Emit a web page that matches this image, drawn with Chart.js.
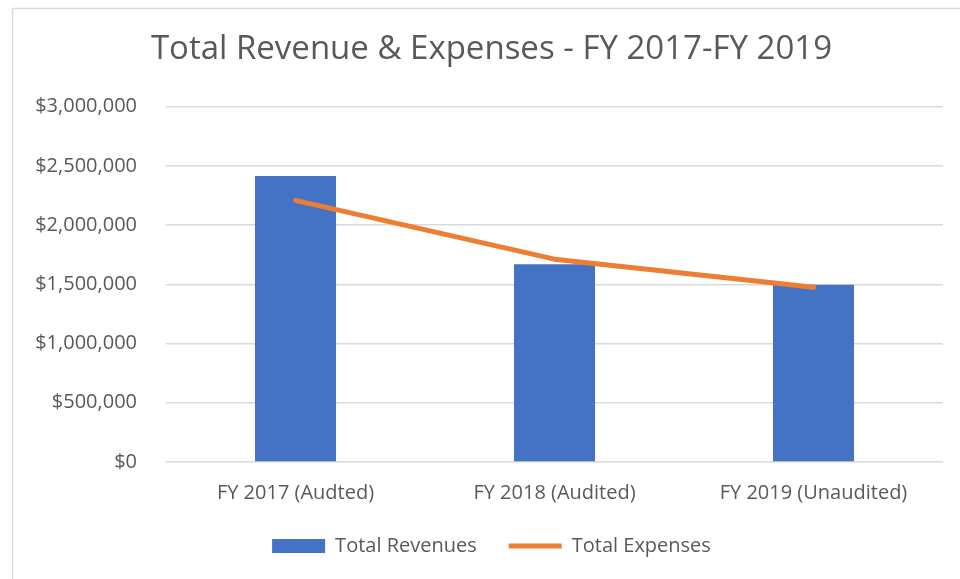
<!DOCTYPE html>
<html>
<head>
<meta charset="utf-8">
<script src="https://cdn.jsdelivr.net/npm/chart.js@4.4.1/dist/chart.umd.min.js"></script>
<style>
  html, body { margin: 0; padding: 0; background: #ffffff; }
  #wrap { width: 960px; height: 579px; position: relative; }
</style>
</head>
<body>
<div id="wrap"><canvas id="c" width="960" height="579"></canvas></div>
<script>
const categories = ['FY 2017 (Audted)', 'FY 2018 (Audited)', 'FY 2019 (Unaudited)'];
const revenues = [2415000, 1669000, 1497000];
const expenses = [2208000, 1712000, 1475000];
const yTickValues = [0, 500000, 1000000, 1500000, 2000000, 2500000, 3000000];
const seriesNames = ['Total Revenues', 'Total Expenses'];
const titleText = 'Total Revenue & Expenses - FY 2017-FY 2019';

const TEXT = '#595959';
const FONT = "'Open Sans', sans-serif";

const framePlugin = {
  id: 'frame',
  afterLayout(chart) {
    // centre title and legend on the outer frame (as in the reference)
    const shift = 20;
    if (chart.titleBlock) { chart.titleBlock.left += shift; chart.titleBlock.right += shift; }
    if (chart.legend) { chart.legend.left += shift; chart.legend.right += shift; }
  },
  beforeDraw(chart) {
    const ctx = chart.ctx;
    ctx.save();
    ctx.fillStyle = '#ffffff';
    ctx.fillRect(0, 0, chart.width, chart.height);
    ctx.strokeStyle = '#D9D9D9';
    ctx.lineWidth = 1.5;
    ctx.strokeRect(12.5, 8.5, chart.width + 10, chart.height + 10);
    ctx.restore();
  }
};

new Chart(document.getElementById('c'), {
  data: {
    labels: categories,
    datasets: [
      {
        type: 'bar',
        label: seriesNames[0],
        data: revenues,
        backgroundColor: '#4472C4',
        borderWidth: 0,
        barPercentage: 1,
        categoryPercentage: 0.313,
        order: 1,
        pointStyle: 'rect'
      },
      {
        type: 'line',
        label: seriesNames[1],
        data: expenses,
        borderColor: '#ED7D31',
        backgroundColor: '#ED7D31',
        borderWidth: 5,
        borderCapStyle: 'round',
        borderJoinStyle: 'round',
        pointRadius: 0,
        pointHoverRadius: 0,
        pointStyle: 'line',
        tension: 0,
        order: 0
      }
    ]
  },
  options: {
    responsive: false,
    animation: false,
    events: [],
    layout: { padding: { left: 0, right: 17, top: 0, bottom: 13 } },
    scales: {
      x: {
        grid: { display: false },
        border: { display: false },
        ticks: {
          color: TEXT,
          font: { family: FONT, size: 20 },
          padding: 11,
          maxRotation: 0
        },
        afterFit(scale) { scale.height = 42; }
      },
      y: {
        min: 0,
        max: 3000000,
        afterBuildTicks(scale) { scale.ticks = yTickValues.map(v => ({ value: v })); },
        grid: { color: '#D9D9D9', lineWidth: 1.5, drawTicks: false },
        border: { display: false },
        ticks: {
          color: TEXT,
          font: { family: FONT, size: 20 },
          padding: 29,
          callback: v => '$' + Number(v).toLocaleString('en-US')
        },
        afterFit(scale) { scale.width = 166; }
      }
    },
    plugins: {
      title: {
        display: true,
        text: titleText,
        color: TEXT,
        font: { family: FONT, size: 33, weight: 'normal' },
        padding: { top: 30, bottom: 37 }
      },
      legend: {
        position: 'bottom',
        labels: {
          color: TEXT,
          font: { family: FONT, size: 20 },
          usePointStyle: true,
          pointStyleWidth: 53,
          boxHeight: 14,
          padding: 32,
          sort: (a, b) => a.datasetIndex - b.datasetIndex
        }
      },
      tooltip: { enabled: false }
    }
  },
  plugins: [framePlugin]
});
</script>
</body>
</html>
